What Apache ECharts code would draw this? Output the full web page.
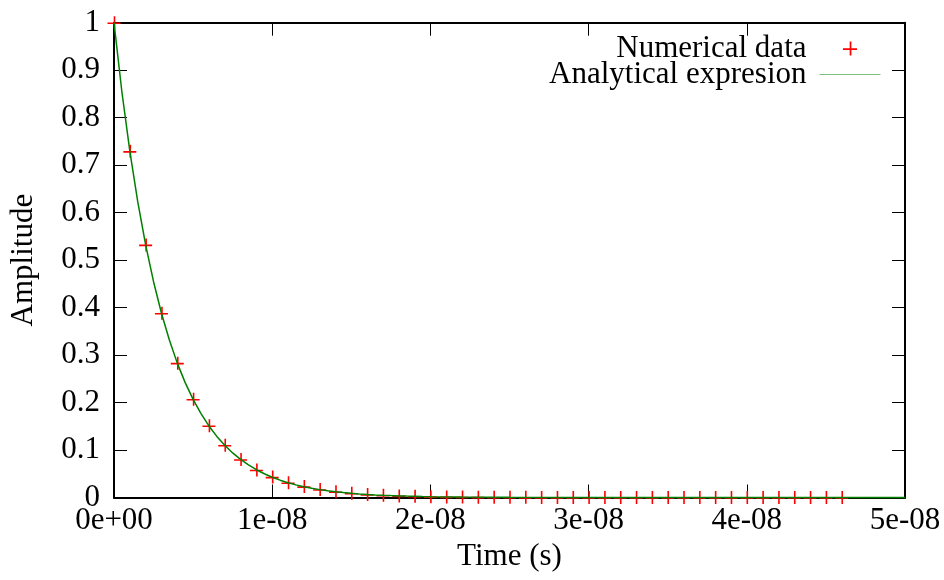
<!DOCTYPE html>
<html><head><meta charset="utf-8">
<script src="https://cdn.jsdelivr.net/npm/echarts@6/dist/echarts.min.js"></script>
<style>html,body{margin:0;padding:0;background:#fff}#c{width:944px;height:580px}</style>
</head><body><div id="c"></div>
<script>
// Tick labels
const xTickLabels = ['0e+00', '1e-08', '2e-08', '3e-08', '4e-08', '5e-08'];
const yTickLabels = ['0', '0.1', '0.2', '0.3', '0.4', '0.5', '0.6', '0.7', '0.8', '0.9', '1'];

// Numerical data (time in ns, amplitude)
const numTimeNs = [0, 1, 2, 3, 4, 5, 6, 7, 8, 9, 10, 11, 12, 13, 14, 15, 16, 17, 18, 19, 20,
  21, 22, 23, 24, 25, 26, 27, 28, 29, 30, 31, 32, 33, 34, 35, 36, 37, 38, 39, 40,
  41, 42, 43, 44, 45, 46];
const numAmp = [1, 0.729, 0.532, 0.388, 0.283, 0.207, 0.151, 0.110, 0.080, 0.058, 0.043,
  0.031, 0.023, 0.017, 0.012, 0.009, 0.0064, 0.0047, 0.0034, 0.0025, 0.0018,
  0.0013, 0.001, 0.0007, 0.0005, 0.0004, 0.0003, 0.0002, 0.00015, 0.0001, 0.00008,
  0.00006, 0.00004, 0.00003, 0.00002, 0.00002, 0, 0, 0, 0, 0,
  0, 0, 0, 0, 0, 0];

// Analytical expression (time in ns, amplitude)
const anaTimeNs = [0, 0.5, 1, 1.5, 2, 2.5, 3, 3.5, 4, 4.5, 5, 5.5, 6, 6.5, 7, 7.5, 8, 8.5, 9, 9.5,
  10, 10.5, 11, 11.5, 12, 12.5, 13, 13.5, 14, 14.5, 15, 15.5, 16, 16.5, 17, 17.5, 18, 18.5, 19, 19.5,
  20, 22, 25, 30, 35, 40, 45, 50];
const anaAmp = [1, 0.854, 0.7295, 0.623, 0.532, 0.4545, 0.388, 0.3316, 0.283, 0.2419, 0.2066,
  0.1765, 0.1507, 0.1287, 0.1099, 0.0939, 0.0802, 0.0685, 0.0585, 0.05,
  0.0427, 0.0365, 0.0311, 0.0266, 0.0227, 0.0194, 0.0166, 0.0142, 0.0121, 0.0103,
  0.0088, 0.0075, 0.0064, 0.0055, 0.0047, 0.004, 0.0034, 0.0029, 0.0025, 0.0021,
  0.0018, 0.001, 0.0004, 0.00008, 0.00002, 0, 0, 0];

const FONT = "'Liberation Serif', 'Times New Roman', 'DejaVu Serif', serif";
const numData = numTimeNs.map((t, i) => [t, numAmp[i]]);
const anaData = anaTimeNs.map((t, i) => [t, anaAmp[i]]);
const plusPath = 'path://M0,6.2H13V7.8H0Z M6.2,0H7.8V13H6.2Z';
const thinPath = 'path://M0,0H61V0.5H0Z';

const axisLine = { show: true, onZero: false, lineStyle: { color: '#000', width: 2 } };
const axisTick = { show: true, inside: true, length: 13, lineStyle: { color: '#000', width: 1 } };

const chart = echarts.init(document.getElementById('c'), null, { renderer: 'canvas' });
chart.setOption({
  backgroundColor: '#fff',
  animation: false,
  textStyle: { fontFamily: FONT },
  grid: { left: 113, right: 39, top: 22.7, bottom: 82.5, containLabel: false },
  legend: {
    right: 58.5, top: 28, orient: 'vertical', align: 'right',
    itemWidth: 61, itemHeight: 14, itemGap: -5,
    symbolKeepAspect: true,
    textStyle: { fontFamily: FONT, fontSize: 31, color: '#000', lineHeight: 27, padding: [0, 8, 0, 0] },
    data: [
      { name: 'Numerical data', icon: plusPath, itemStyle: { color: '#ff0000' } },
      { name: 'Analytical expresion', icon: thinPath,
        itemStyle: { color: '#008000' },
        lineStyle: { color: '#008000', width: 1.5, opacity: 1 } }
    ]
  },
  xAxis: [{
    type: 'value', min: 0, max: 50, interval: 10, position: 'bottom',
    name: 'Time (s)', nameLocation: 'middle', nameGap: 44,
    nameTextStyle: { fontFamily: FONT, fontSize: 31, color: '#000' },
    axisLine, axisTick,
    axisLabel: { fontFamily: FONT, fontSize: 31, color: '#000', margin: 8,
      formatter: (v, i) => xTickLabels[i] },
    splitLine: { show: false }
  }, {
    type: 'value', min: 0, max: 50, interval: 10, position: 'top',
    axisLine, axisTick, axisLabel: { show: false }, splitLine: { show: false }
  }],
  yAxis: [{
    type: 'value', min: 0, max: 1, interval: 0.1, position: 'left',
    name: 'Amplitude', nameLocation: 'middle', nameGap: 75,
    nameTextStyle: { fontFamily: FONT, fontSize: 31, color: '#000' },
    axisLine, axisTick,
    axisLabel: { fontFamily: FONT, fontSize: 31, color: '#000', margin: 14,
      formatter: (v, i) => yTickLabels[i] },
    splitLine: { show: false }
  }, {
    type: 'value', min: 0, max: 1, interval: 0.1, position: 'right',
    axisLine, axisTick, axisLabel: { show: false }, splitLine: { show: false }
  }],
  series: [{
    name: 'Numerical data', type: 'scatter', data: numData,
    symbol: plusPath, symbolSize: 13, symbolKeepAspect: true,
    itemStyle: { color: '#ff0000', opacity: 1 }, clip: false, z: 3
  }, {
    name: 'Analytical expresion', type: 'line', data: anaData,
    showSymbol: false, symbol: 'none', smooth: false, clip: false,
    lineStyle: { color: '#008000', width: 1.5 }, itemStyle: { color: '#008000' }, z: 4
  }]
});
</script></body></html>
